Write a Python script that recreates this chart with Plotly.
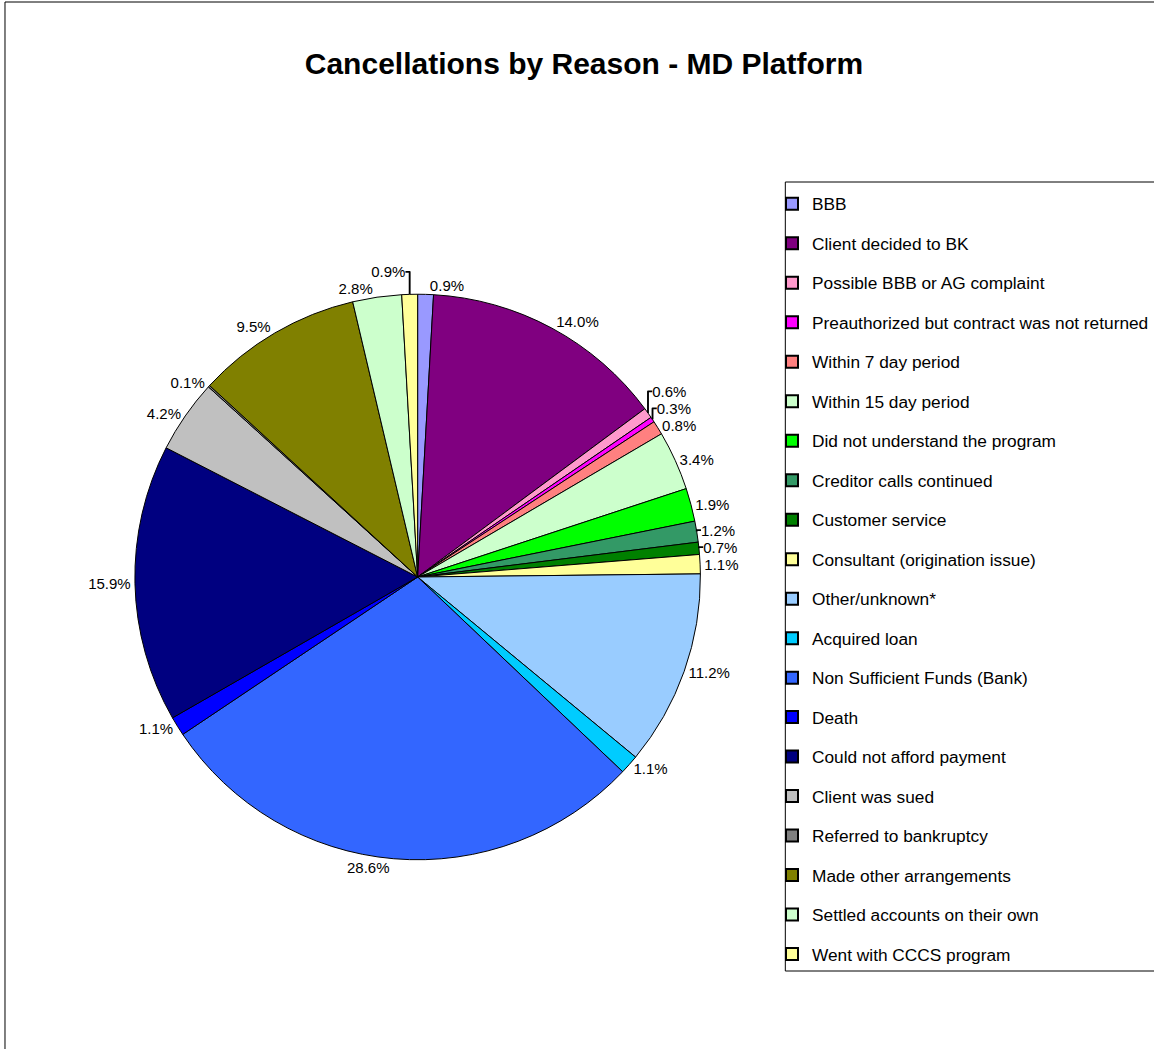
import plotly.graph_objects as go

categories = [
    "BBB", "Client decided to BK", "Possible BBB or AG complaint",
    "Preauthorized but contract was not returned", "Within 7 day period",
    "Within 15 day period", "Did not understand the program",
    "Creditor calls continued", "Customer service",
    "Consultant (origination issue)", "Other/unknown*", "Acquired loan",
    "Non Sufficient Funds (Bank)", "Death", "Could not afford payment",
    "Client was sued", "Referred to bankruptcy", "Made other arrangements",
    "Settled accounts on their own", "Went with CCCS program",
]
values = [0.9, 14.0, 0.6, 0.3, 0.8, 3.4, 1.9, 1.2, 0.7, 1.1,
          11.2, 1.1, 28.6, 1.1, 15.9, 4.2, 0.1, 9.5, 2.8, 0.9]
colors = ["#9999FF", "#800080", "#FF99CC", "#FF00FF", "#FF8080",
          "#CCFFCC", "#00FF00", "#339966", "#008000", "#FFFF99",
          "#99CCFF", "#00CCFF", "#3366FF", "#0000FF", "#000080",
          "#C0C0C0", "#808080", "#808000", "#CCFFCC", "#FFFF99"]
title_text = "Cancellations by Reason - MD Platform"

W, H = 1154, 1049
FONT = "Liberation Sans, Arial, sans-serif"
cx, cy, r = 418, 577, 283

fig = go.Figure()
fig.add_trace(go.Pie(
    labels=categories, values=values, sort=False, direction="clockwise",
    rotation=0,
    marker=dict(colors=colors, line=dict(color="black", width=1)),
    text=[f"{v:.1f}%" for v in values], textinfo="text",
    textposition="outside", textfont=dict(family=FONT, size=15, color="black"),
    showlegend=False, hoverinfo="label+text",
    domain=dict(x=[(cx - r) / W, (cx + r) / W],
                y=[1 - (cy + r) / H, 1 - (cy - r) / H]),
))

for i, (c, col) in enumerate(zip(categories, colors)):
    fig.add_trace(go.Scatter(
        x=[None], y=[None], mode="markers", name=c,
        legendgroup=f"g{i}",
        marker=dict(symbol="square", size=10, color=col,
                    line=dict(color="black", width=1)),
        hoverinfo="skip",
    ))

fig.update_layout(
    width=W, height=H,
    margin=dict(l=0, r=0, t=0, b=0),
    paper_bgcolor="white", plot_bgcolor="white",
    font=dict(family=FONT, color="black"),
    title=dict(text=f"<b>{title_text}</b>", x=584 / W, xanchor="center",
               y=1 - 63 / H, yanchor="middle", yref="paper",
               font=dict(family=FONT, size=30, color="black")),
    xaxis=dict(visible=False), yaxis=dict(visible=False),
    legend=dict(x=773 / W, y=1 - 186 / H, xanchor="left", yanchor="top",
                borderwidth=0, bgcolor="rgba(0,0,0,0)",
                font=dict(family=FONT, size=17.3, color="black"),
                traceorder="grouped", tracegroupgap=14.0,
                itemsizing="constant"),
    shapes=[
        dict(type="rect", xref="paper", yref="paper",
             x0=5 / W, x1=1.05, y0=-0.05, y1=1 - 2 / H,
             line=dict(color="black", width=1), layer="below"),
        dict(type="rect", xref="paper", yref="paper",
             x0=786 / W, x1=1.05, y0=1 - 971 / H, y1=1 - 182 / H,
             line=dict(color="black", width=1), fillcolor="white",
             layer="below"),
    ],
)

fig.write_html("out.html", config={"displayModeBar": False},
               post_script="document.body.style.margin='0px';")
